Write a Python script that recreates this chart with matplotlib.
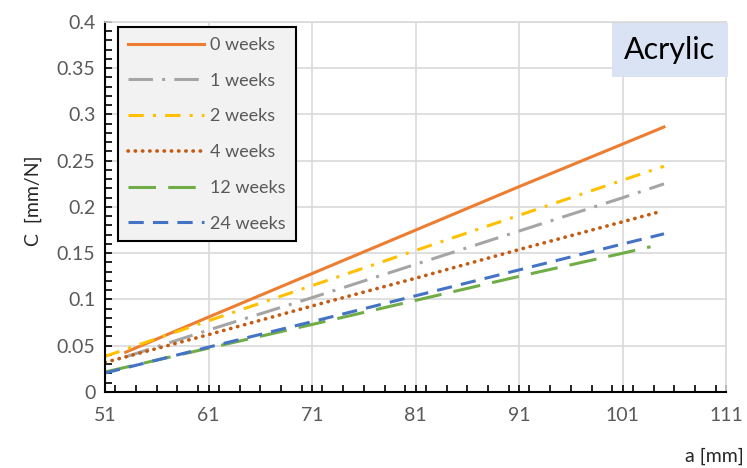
import matplotlib
matplotlib.use("Agg")
import matplotlib.pyplot as plt
from matplotlib.ticker import MultipleLocator

plt.rcParams['font.family'] = ['Lato', 'DejaVu Sans']

labels = ["0 weeks", "1 weeks", "2 weeks", "4 weeks", "12 weeks", "24 weeks"]
a_0w = [53, 61, 71, 81, 91, 101, 105]
c_0w = [0.043, 0.081, 0.128, 0.175, 0.222, 0.268, 0.2865]
a_1w = [53, 61, 71, 81, 91, 101, 105]
c_1w = [0.038, 0.067, 0.102, 0.138, 0.174, 0.210, 0.225]
a_2w = [51, 61, 71, 81, 91, 101, 105]
c_2w = [0.0385, 0.077, 0.115, 0.153, 0.191, 0.229, 0.244]
a_4w = [51, 61, 71, 81, 91, 101, 104.5]
c_4w = [0.032, 0.062, 0.093, 0.123, 0.154, 0.184, 0.1946]
a_12w = [51, 61, 71, 81, 91, 101, 103.7]
c_12w = [0.0216, 0.0474, 0.073, 0.099, 0.125, 0.150, 0.157]
a_24w = [51, 61, 71, 81, 91, 101, 105]
c_24w = [0.0205, 0.0485, 0.076, 0.104, 0.132, 0.160, 0.171]

series = [(a_0w, c_0w), (a_1w, c_1w), (a_2w, c_2w), (a_4w, c_4w), (a_12w, c_12w), (a_24w, c_24w)]
colors = ["#ED7D31", "#A5A5A5", "#FFC000", "#C55A11", "#70AD47", "#4472C4"]
styles = ["-", (0, (8, 3, 1, 3)), (0, (5, 3, 1, 3)), (0, (0.1, 1.9)), (0, (9, 4)), (0, (5, 3))]
caps = ["butt", "butt", "butt", "round", "butt", "butt"]
widths = [2.2, 2.2, 2.2, 2.6, 2.2, 2.2]

fig = plt.figure(figsize=(7.47, 4.68), dpi=100)
ax = fig.add_axes([0.1406, 0.1624, 0.8314, 0.7906])

for (x, y), lab, col, ls, cap, w in zip(series, labels, colors, styles, caps, widths):
    ax.plot(x, y, color=col, linestyle=ls, lw=w, label=lab, dash_capstyle=cap)

ax.set_xlim(51, 111)
ax.set_ylim(0, 0.4)
ax.xaxis.set_minor_locator(MultipleLocator(2))
ax.yaxis.set_minor_locator(MultipleLocator(0.01))
ax.set_yticks([0, 0.05, 0.1, 0.15, 0.2, 0.25, 0.3, 0.35, 0.4])
ax.set_yticklabels(["0", "0.05", "0.1", "0.15", "0.2", "0.25", "0.3", "0.35", "0.4"])
ax.set_xticks([51, 61, 71, 81, 91, 101, 111])
ax.grid(True, which='major', color='#D9D9D9', lw=1.2)
ax.set_axisbelow(True)
for s in ['top', 'right']:
    ax.spines[s].set_color('#D9D9D9')
    ax.spines[s].set_linewidth(1.2)
for s in ['left', 'bottom']:
    ax.spines[s].set_color('black')
    ax.spines[s].set_linewidth(1.5)
ax.tick_params(which='both', direction='in', length=5, width=1.2, color='black',
               labelcolor='#595959', labelsize=14)
ax.tick_params(axis='x', which='major', pad=11)
ax.tick_params(axis='y', which='major', pad=7)
ax.tick_params(which='both', top=False, right=False)

fig.text(0.045, 0.57, "C  [mm/N]", rotation=90, ha='center', va='center',
         fontsize=14, color='#262626')
fig.text(0.996, 0.025, "a [mm]", ha='right', va='center', fontsize=14, color='#262626')

leg = ax.legend(loc='upper left', bbox_to_anchor=(0.021, 0.986), frameon=True,
                fancybox=False, edgecolor='black', facecolor='#F2F2F2',
                fontsize=13, labelcolor='#595959', handlelength=4.2,
                labelspacing=1.09, borderpad=0.55, handletextpad=0.35,
                borderaxespad=0)
leg.get_frame().set_linewidth(1.5)
leg.get_frame().set_alpha(1)

ax.text(0.983, 0.962, "Acrylic", transform=ax.transAxes, ha='right', va='top',
        fontsize=22, color='black',
        bbox=dict(boxstyle='square,pad=0.42', facecolor='#DAE3F3', edgecolor='none'))

fig.savefig("out.png", dpi=100)
